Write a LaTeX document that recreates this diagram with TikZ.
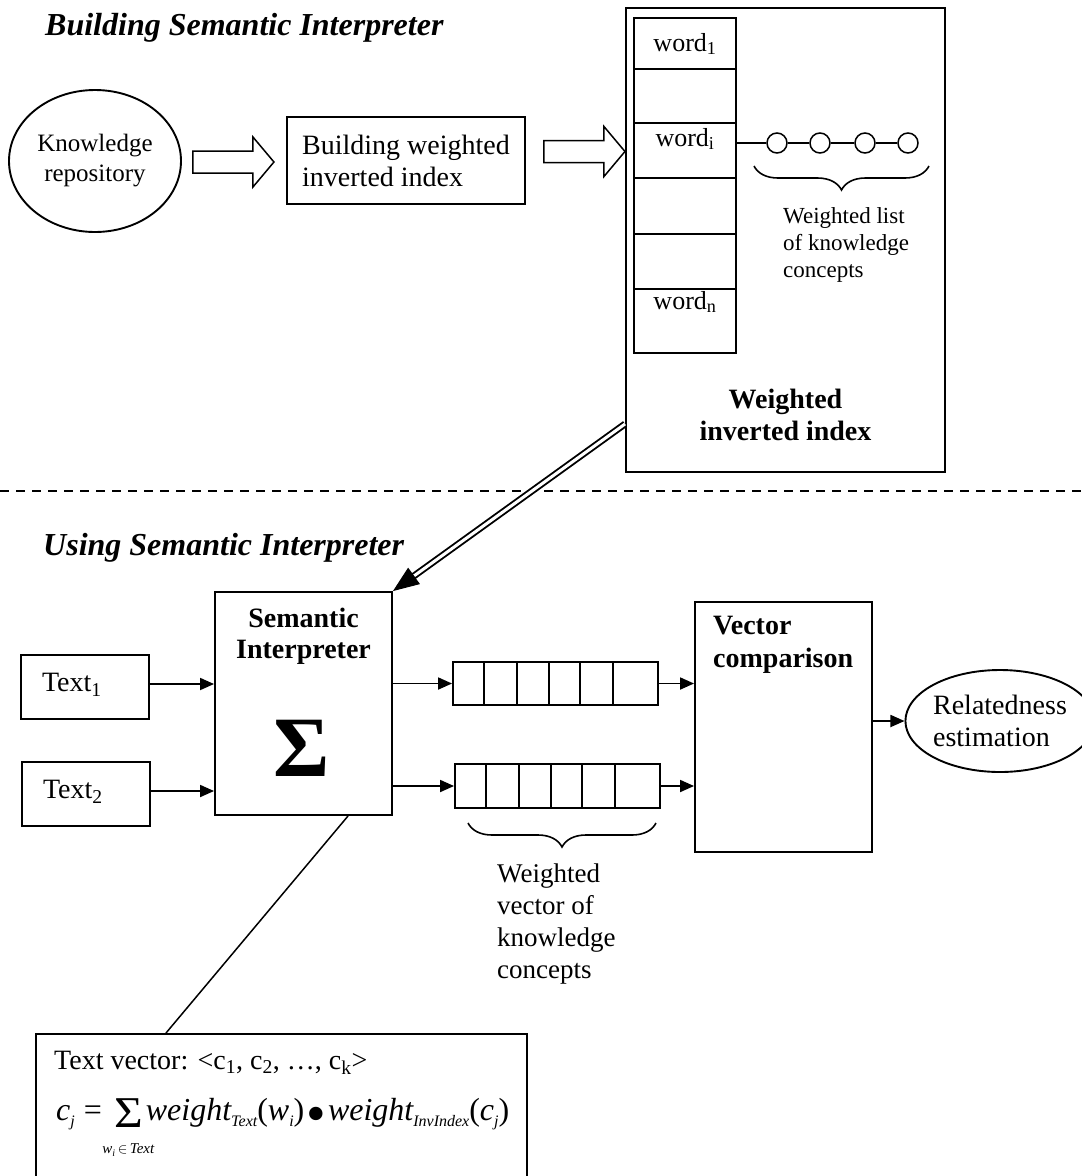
\documentclass[tikz,border=0pt]{standalone}
\usepackage{graphicx}
\usepackage{fontspec}
\setmainfont{Liberation Serif}
\usetikzlibrary{shapes.geometric,arrows.meta,calc,decorations.pathreplacing}

\newcommand{\fsz}[2]{\fontsize{#1}{#2}\selectfont}
% lowered italic subscript used in the formula
\newcommand{\sbs}[1]{\raisebox{-6pt}{\fsz{16}{18}\itshape #1}}
% summation sign with its range set underneath
\newcommand{\sumblock}{\makebox[31pt][c]{\raisebox{-7pt}{\upshape\fsz{44}{44}\scalebox{1.12}[1]{Σ}}}%
  \makebox[0pt][r]{\makebox[31pt][c]{\raisebox{-33pt}[0pt][0pt]{\fsz{15}{17}\itshape
  w\raisebox{-3pt}{\fsz{10}{11}i}\,$\in$\,Text}}}}
\newcommand{\dotop}{\raisebox{-12pt}{\upshape\fsz{56}{56}•}}

\tikzset{
  every node/.style={inner sep=0pt},
  box/.style={draw, rectangle, line width=1.9pt, inner sep=0pt},
  arr/.style={line width=1.8pt, -{Triangle[length=14pt,width=12pt]}},
  thinline/.style={line width=1.5pt},
  hollowline/.style={line width=1.5pt},
  bracedown/.style={line width=1.6pt, decorate, decoration={brace, mirror, amplitude=24pt}},
  maintext/.style={font=\fsz{28}{32}},
  wordtext/.style={font=\fsz{26}{30}},
  heading/.style={font=\fsz{32}{38}\bfseries\itshape},
}

% horizontal hollow block arrow starting at #1, 80 units long
\newcommand{\hollowarrow}[1]{%
  \draw[hollowline] ($#1+(0,-11)$) -- ++(60,0) -- ++(0,-14) -- ++(21,25)
     -- ++(-21,25) -- ++(0,-14) -- ++(-60,0) -- cycle;}

\begin{document}
\begin{tikzpicture}[x=1pt,y=-1pt]
\useasboundingbox (0,0) rectangle (1082,1176);
\clip (0,0) rectangle (1082,1176);

% ---------- building the interpreter ----------
\node[heading, anchor=base west] (h1) at (45,35) {Building Semantic Interpreter};

\node[draw, ellipse, line width=1.9pt, minimum width=172, minimum height=142,
      align=center, font=\fsz{25}{30}] (kr) at (95,161) {Knowledge\\repository};

\node[box, minimum width=238, minimum height=87, align=left, maintext]
      (bwi) at (406,160.5) {Building weighted\\inverted index};

\coordinate (a1) at ($(kr.east)+(11,1)$);
\hollowarrow{(a1)}
\coordinate (a2) at ($(bwi.east)+(18,-9)$);
\hollowarrow{(a2)}

% weighted inverted index
\node[box, minimum width=319, minimum height=464] (wii) at (785.5,240) {};

\node[box, minimum width=102, minimum height=51] (w1) at (685,43.5) {};
\node[box, minimum width=102, minimum height=54] (w2) at (685,96) {};
\node[box, minimum width=102, minimum height=55] (w3) at (685,150.5) {};
\node[box, minimum width=102, minimum height=56] (w4) at (685,206) {};
\node[box, minimum width=102, minimum height=55] (w5) at (685,261.5) {};
\node[box, minimum width=102, minimum height=64] (w6) at (685,321) {};

\node[wordtext, anchor=base] (l1) at ($(w1.north)+(0,34)$) {word\textsubscript{1}};
\node[wordtext, anchor=base] (li) at ($(w3.north)+(0,24)$) {word\textsubscript{i}};
\node[wordtext, anchor=base] (ln) at ($(w6.north)+(0,21)$) {word\textsubscript{n}};

\foreach \n/\x in {k1/777,k2/820,k3/865,k4/908}
  \node[draw, circle, line width=1.5pt, minimum size=20] (\n) at (\x,143) {};
\draw[thinline] (w3.east |- k1) -- (k1) -- (k2) -- (k3) -- (k4);

\draw[bracedown] (754,166) -- (929,166);
\node[anchor=north west, align=left, font=\fsz{23}{27}] (wl) at (783,207.5)
      {Weighted list\\of knowledge\\concepts};

\node[anchor=north, align=center, font=\fsz{28}{32}\bfseries] (wiil) at (785.5,389)
      {Weighted\\inverted index};

% separator between the two phases
\coordinate (dl) at (0,491);
\coordinate (dr) at (1082,491);
\draw[line width=1.5pt, dash pattern=on 9pt off 7pt] (dl) -- (dr);

% ---------- using the interpreter ----------
\node[heading, anchor=base west] (h2) at (43,555) {Using Semantic Interpreter};

\node[box, minimum width=177, minimum height=223] (sem) at (303.5,703.5) {};
\node[anchor=north, align=center, font=\fsz{28}{31}\bfseries] (seml) at (303.5,608)
      {Semantic\\Interpreter};
\node[font=\fsz{86}{90}\bfseries] (sig) at (302,748) {Σ};

% link from the index to the interpreter
\coordinate (da) at ($(wii.south west)+(0,-49)$);
\draw[line width=1.9pt, double distance=3pt, shorten >=22pt] (da) -- (sem.north east);
\draw[line width=1pt, -{Triangle[length=26pt,width=20pt]}]
      ($(sem.north east)!26pt!(da)$) -- (sem.north east);

\node[box, minimum width=128, minimum height=64, text width=86, inner xsep=21pt,
      align=left, text depth=9pt, maintext] (t1) at (85,687) {Text\textsubscript{1}};
\node[box, minimum width=128, minimum height=64, text width=86, inner xsep=21pt,
      align=left, text depth=9pt, maintext] (t2) at (86,794) {Text\textsubscript{2}};

\draw[arr] ($(t1.east)+(0,-3)$) -- ($(t1.east -| sem.west)+(0,-3)$);
\draw[arr] ($(t2.east)+(0,-3)$) -- ($(t2.east -| sem.west)+(0,-3)$);

% concept vectors
\node[box, minimum width=205, minimum height=43] (v1) at (555.5,683.5) {};
\node[box, minimum width=205, minimum height=44] (v2) at (557.5,786) {};
\foreach \v in {v1,v2}
  \foreach \d in {32,65,97,128,161}
    \draw[line width=1.9pt] ($(\v.north west)+(\d,0)$) -- ($(\v.south west)+(\d,0)$);

\node[box, minimum width=177, minimum height=250] (vc) at (783.5,727) {};
\node[anchor=north west, align=left, font=\fsz{28}{33}\bfseries] (vcl) at (713,616)
      {Vector\\comparison};

\draw[arr] (sem.east |- v1) -- (v1.west);
\draw[arr] (sem.east |- v2) -- (v2.west);
\draw[arr] (v1.east) -- (v1.east -| vc.west);
\draw[arr] (v2.east) -- (v2.east -| vc.west);

\node[draw, ellipse, line width=1.9pt, minimum width=176, minimum height=102,
      align=left, maintext] (re) at (1000,721) {Relatedness\\estimation};
\draw[arr] (vc.east |- re) -- (re.west);

\draw[bracedown] (468,823) -- (656,823);
\node[anchor=north west, align=left, font=\fsz{27}{32}] (wv) at (497,863.5)
      {Weighted\\vector of\\knowledge\\concepts};

% formula box
\node[box, minimum width=491, minimum height=200, anchor=north west] (fb) at (35,1033) {};
\coordinate (s1) at ($(sem.south west)+(134,0)$);
\coordinate (f1) at ($(fb.north west)+(131,0)$);
\draw[thinline] (s1) -- (f1);

\node[anchor=base west, maintext] (tv) at (54,1069)
      {Text vector: <c\textsubscript{1}, c\textsubscript{2}, …, c\textsubscript{k}>};
\node[anchor=base west, font=\fsz{32}{36}\itshape] (fm) at (56,1120)
      {c\sbs{j}\hspace{9pt}{\upshape=}\hspace{11pt}\sumblock\hspace{2pt}weight\sbs{Text}{\upshape(}w\sbs{i}{\upshape)}\hspace{2pt}\dotop\hspace{2pt}weight\sbs{InvIndex}{\upshape(}c\sbs{j}{\upshape)}};
\end{tikzpicture}
\end{document}
